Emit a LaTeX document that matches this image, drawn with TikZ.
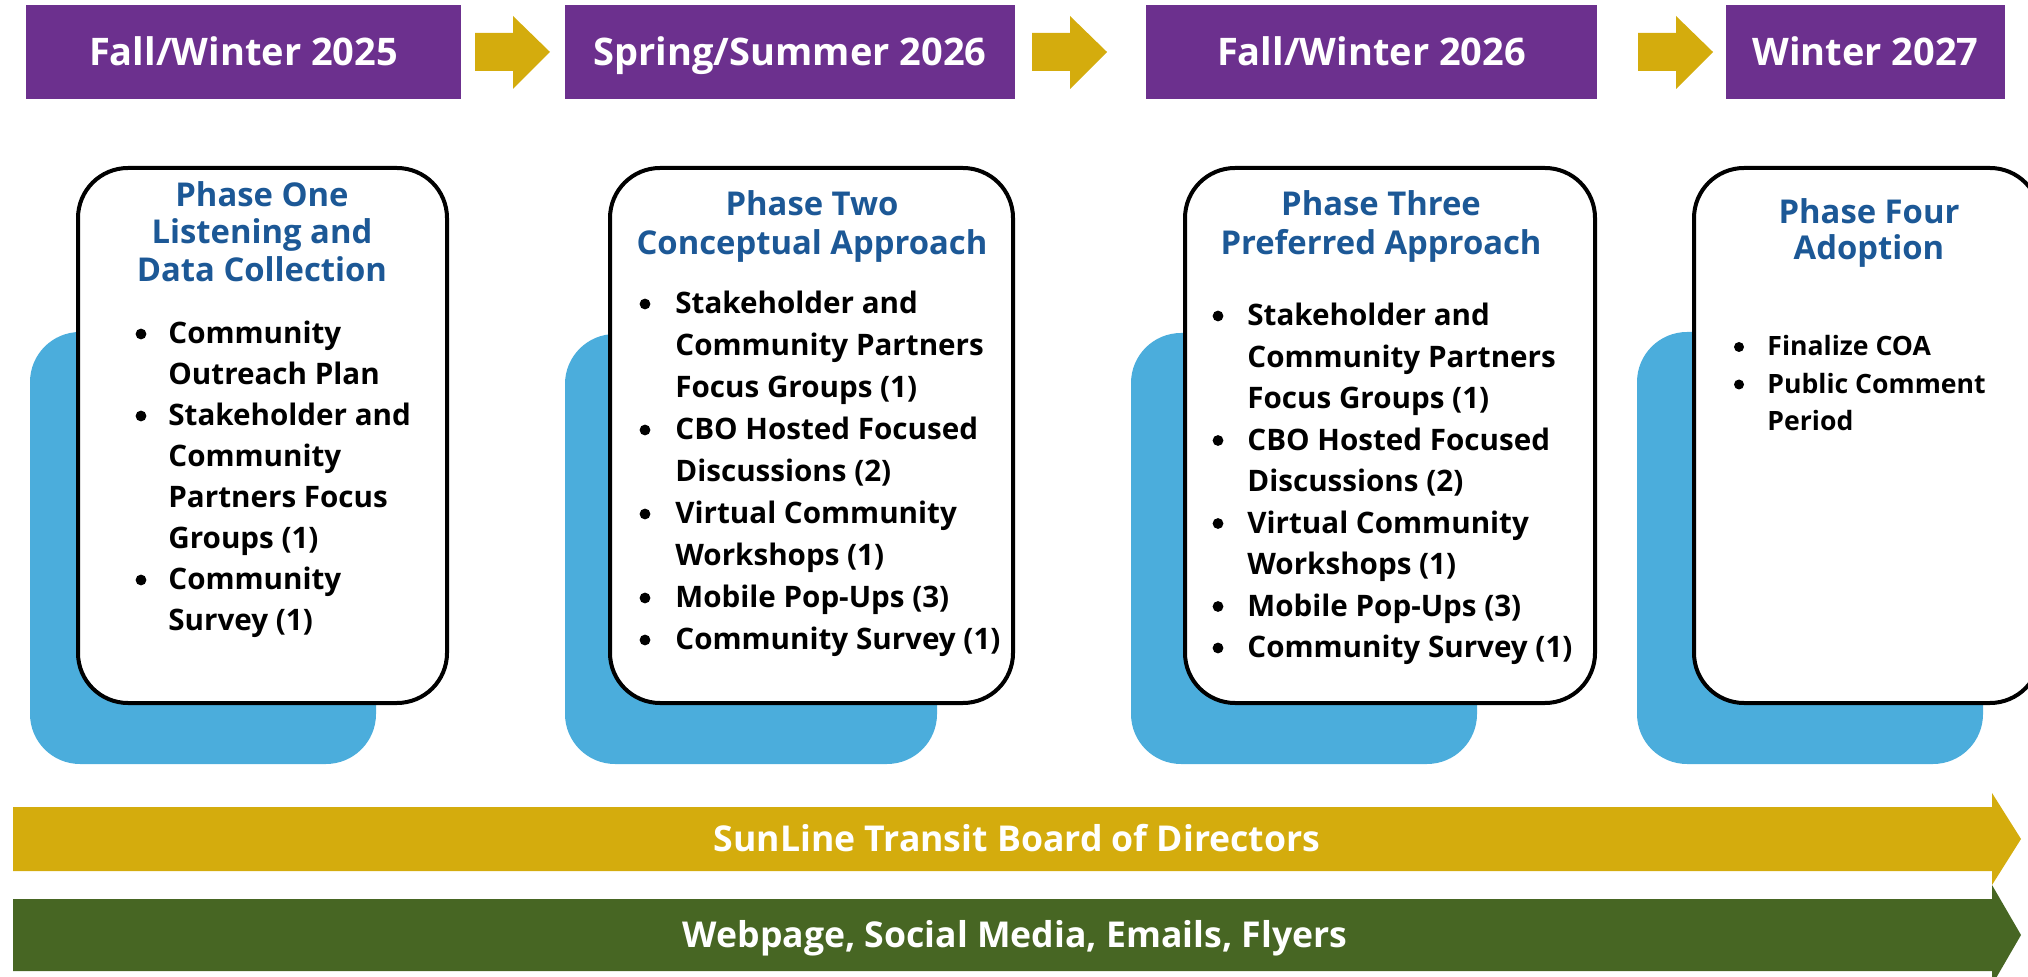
\documentclass[tikz,border=0pt]{standalone}
\usepackage{fontspec}
\setmainfont{Open Sans}
\definecolor{hpurple}{RGB}{108,48,142}
\definecolor{hgold}{RGB}{212,172,13}
\definecolor{hblue}{RGB}{75,173,220}
\definecolor{hgreen}{RGB}{71,102,35}
\definecolor{tblue}{RGB}{28,88,150}
\tikzset{
  hdr/.style={fill=hpurple, text=white, inner sep=0pt, text height=13.6pt, text depth=0pt,
    minimum height=47pt, font=\fontsize{19}{23}\selectfont\bfseries},
  bluebox/.style={fill=hblue, rounded corners=25pt},
  whitebox/.style={fill=white, draw=black, line width=2pt, rounded corners=25pt},
  ttl/.style={anchor=base, inner sep=0pt, text=tblue, font=\fontsize{16.4}{19}\selectfont\bfseries},
  body/.style={anchor=base west, inner sep=0pt, text=black, font=\fontsize{14.8}{21}\selectfont\bfseries},
  bodysm/.style={anchor=base west, inner sep=0pt, text=black, font=\fontsize{13.3}{18}\selectfont\bfseries},
  bartext/.style={anchor=base, inner sep=0pt, text=white, font=\fontsize{17.8}{22}\selectfont\bfseries},
}
\newcommand\harrow[1]{\fill[hgold] (#1) ++(0,-19) -- ++(38,0) -- ++(0,-17) -- ++(37,36) -- ++(-37,37) -- ++(0,-18) -- ++(-38,0) -- cycle;}
\begin{document}
\begin{tikzpicture}[x=0.5pt,y=-0.5pt]
\useasboundingbox (0,0) rectangle (2028,977);
\clip (0,0) rectangle (2028,977);

% headers
\node[hdr, minimum width=217.5pt] (h1) at (243.5,52) {Fall/Winter 2025};
\node[hdr, minimum width=225pt] (h2) at (790,52) {Spring/Summer 2026};
\node[hdr, minimum width=225.5pt] (h3) at (1371.5,52) {Fall/Winter 2026};
\node[hdr, minimum width=139.5pt] (h4) at (1865.5,52) {Winter 2027};
\harrow{475,52}
\harrow{1032,52}
\harrow{1638,52}

% blue backing boxes
\fill[bluebox] (30,332) rectangle (376,764);
\fill[bluebox] (565,334) rectangle (937,764);
\fill[bluebox] (1131,333) rectangle (1477,764);
\fill[bluebox] (1637,332) rectangle (1983,764);

% white boxes
\draw[whitebox] (78,168) rectangle (447,703);
\draw[whitebox] (610,168) rectangle (1013,703);
\draw[whitebox] (1185,168) rectangle (1595,703);
\draw[whitebox] (1694,168) rectangle (2040,703);

% Phase one
\node[ttl] (t1a) at (262,207) {Phase One};
\node[ttl] (t1b) at (262,244) {Listening and};
\node[ttl] (t1c) at (262,282) {Data Collection};
\foreach \t [count=\i] in {Community, Outreach Plan, Stakeholder and, Community, Partners Focus, Groups (1), Community, Survey (1)}
  \node[body] (p1-\i) at (168,{344+41*(\i-1)}) {\t};
\foreach \i in {0,2,6} \fill (141,{344+41*\i-10}) circle[radius=2.7pt];

% Phase two
\node[ttl] (t2a) at (812,216) {Phase Two};
\node[ttl] (t2b) at (812,255) {Conceptual Approach};
\foreach \t [count=\i] in {Stakeholder and, Community Partners, Focus Groups (1), CBO Hosted Focused, Discussions (2), Virtual Community, Workshops (1), Mobile Pop-Ups (3), Community Survey (1)}
  \node[body] (p2-\i) at (675,{314+42*(\i-1)}) {\t};
\foreach \i in {0,3,5,7,8} \fill (645,{314+42*\i-10}) circle[radius=2.7pt];

% Phase three
\node[ttl] (t3a) at (1381,216) {Phase Three};
\node[ttl] (t3b) at (1381,255) {Preferred Approach};
\foreach \t [count=\i] in {Stakeholder and, Community Partners, Focus Groups (1), CBO Hosted Focused, Discussions (2), Virtual Community, Workshops (1), Mobile Pop-Ups (3), Community Survey (1)}
  \node[body] (p3-\i) at (1247,{326+41.5*(\i-1)}) {\t};
\foreach \i in {0,3,5,7,8} \fill (1218,{326+41.5*\i-10}) circle[radius=2.7pt];

% Phase four
\node[ttl] (t4a) at (1869,224) {Phase Four};
\node[ttl] (t4b) at (1869,260) {Adoption};
\foreach \t [count=\i] in {Finalize COA, Public Comment, Period}
  \node[bodysm] (p4-\i) at (1767,{356+37.5*(\i-1)}) {\t};
\foreach \i in {0,1} \fill (1739,{356+37.5*\i-9}) circle[radius=2.5pt];

% bottom bars
\fill[hgold] (13,807) -- (1992,807) -- (1992,793) -- (2021,839) -- (1992,885) -- (1992,871) -- (13,871) -- cycle;
\node[bartext] (board) at (1017,851) {SunLine Transit Board of Directors};
\fill[hgreen] (13,899) -- (1992,899) -- (1992,885) -- (2021,935) -- (1992,985) -- (1992,971) -- (13,971) -- cycle;
\node[bartext] (web) at (1015,947) {Webpage, Social Media, Emails, Flyers};
\end{tikzpicture}
\end{document}
